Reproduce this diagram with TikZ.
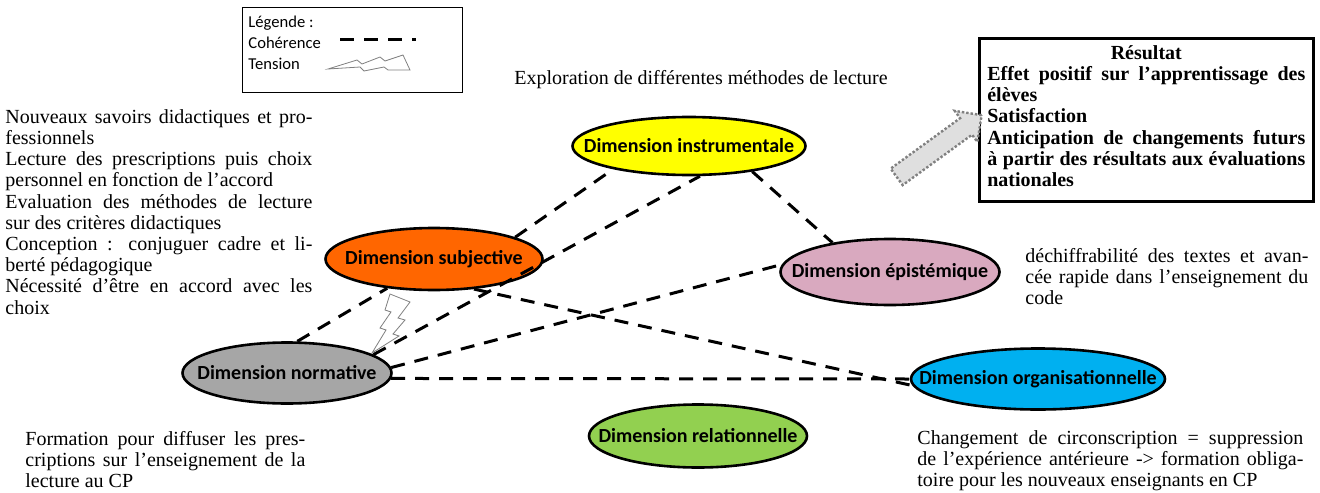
\documentclass[tikz,border=0pt]{standalone}
\usepackage{fontspec}
\setmainfont{Liberation Serif}
\newfontfamily\calibri{Carlito}
\usepackage{tikz}
\usetikzlibrary{positioning,shapes.geometric,shapes.arrows}
\definecolor{instrcol}{RGB}{255,255,0}
\definecolor{subjcol}{RGB}{255,102,0}
\definecolor{episcol}{RGB}{217,169,191}
\definecolor{normcol}{RGB}{166,166,166}
\definecolor{orgcol}{RGB}{0,176,240}
\definecolor{relcol}{RGB}{146,208,80}
\newcommand{\dimlab}[1]{\makebox[0pt]{#1}}
\tolerance=9999
\hyphenpenalty=10000

\begin{document}
\begin{tikzpicture}[x=0.5pt,y=-0.5pt,on grid]
      \tikzset{dim/.style={draw,ellipse,line width=1.3pt,inner sep=0pt,font=\calibri\bfseries\fontsize{10}{11}\selectfont}}
      \tikzset{txt/.style={inner sep=0pt,align=justify,font=\fontsize{10}{10.6}\selectfont}}
      \tikzset{coh/.style={line width=1.5pt,dash pattern=on 7pt off 5pt}}
      \tikzset{eclair/.style={draw=gray,fill=white,line width=0.4pt,line join=miter}}
      \useasboundingbox (0,0) rectangle (1320,492);

      % dimensions
      \node[dim,fill=normcol,minimum width=104.5pt,minimum height=30.5pt] (norm) at (287,373) {\dimlab{Dimension normative}};
      \node[dim,fill=subjcol,minimum width=108.5pt,minimum height=31pt] (subj) [above right = 57pt and 73.5pt of norm] {\dimlab{Dimension subjective}};
      \node[dim,fill=instrcol,minimum width=116.5pt,minimum height=29pt] (instr) [above right = 56.5pt and 127.5pt of subj] {\dimlab{Dimension instrumentale}};
      \node[dim,fill=episcol,minimum width=109.5pt,minimum height=33pt] (epis) [below right = 63pt and 100.5pt of instr] {\dimlab{Dimension épistémique}};
      \node[dim,fill=orgcol,minimum width=127pt,minimum height=30.5pt] (org) [below right = 53.5pt and 74pt of epis] {\dimlab{Dimension organisationnelle}};
      \node[dim,fill=relcol,minimum width=109pt,minimum height=31.5pt] (relat) [below right = 145pt and 4.5pt of instr] {\dimlab{Dimension relationnelle}};

      % coherences
      \path[coh]
      (norm.72) edge (subj.212)
      (norm.12) edge (instr.290)
      (norm.3) edge (epis.176)
      (norm.-3) edge (org.180)
      (subj.15) edge (instr.197)
      (subj.-37) edge (org.183)
      (instr.338) edge (epis.153)
      ;

      % tension subjective / normative
      \draw[eclair] (390,294) -- (410,302) -- (398,318) -- (405,320) -- (393,334) -- (399,336)
        -- (372,353) -- (386,330) -- (380,328) -- (391,312) -- (385,310) -- cycle;

      % legende
      \node[draw,line width=0.6pt,minimum width=110pt,minimum height=42.5pt,anchor=north west] (legende) at (242,7) {};
      \node[inner sep=0pt,anchor=north west,align=left,font=\calibri\fontsize{8.3}{10.5}\selectfont] (legtxt) at (248,16) {Légende :\\Cohérence\\Tension};
      \coordinate (cohA) at (340,40);
      \coordinate (cohB) at (416,40);
      \draw[coh] (cohA) -- (cohB);
      \draw[eclair] (328,69) -- (357,60) -- (362,64) -- (380,57) -- (385,61) -- (403,55)
        -- (410,70) -- (388,70) -- (384,67) -- (364,71) -- (360,67) -- cycle;

      % textes
      \node[txt,anchor=center,align=center] (explo) at (701,80) {Exploration de différentes méthodes de lecture};
      \node[txt,text width=153.5pt,anchor=north west] (savoirs) at (5,109) {Nouveaux savoirs didactiques et pro-\linebreak fessionnels\\
      Lecture des prescriptions puis choix\linebreak personnel en fonction de l'accord\\
      Evaluation des méthodes de lecture\linebreak sur des critères didactiques\\
      Conception : conjuguer cadre et li-\linebreak berté pédagogique\\
      Nécessité d'être en accord avec les\linebreak choix};
      \node[txt,text width=140pt,anchor=north west] (formation) at (25,431) {Formation pour diffuser les pres-\linebreak criptions sur l'enseignement de la\linebreak lecture au CP};
      \node[txt,text width=141.5pt,anchor=north west] (dechif) at (1025,248) {déchiffrabilité des textes et avan-\linebreak cée rapide dans l'enseignement du\linebreak code};
      \node[txt,text width=193pt,anchor=north west] (circo) at (917,430) {Changement de circonscription = suppression\linebreak de l'expérience antérieure -> formation obliga-\linebreak toire pour les nouveaux enseignants en CP};

      % resultat
      \node[draw,line width=1.3pt,minimum width=167pt,minimum height=81.5pt,anchor=north west] (resbox) at (978,37) {};
      \node[txt,text width=159pt,anchor=north,font=\bfseries\fontsize{10}{10.6}\selectfont] (resultat) at ([yshift=-4pt]resbox.north) {{\centering Résultat\par}
      Effet positif sur l'apprentissage des\linebreak élèves\\
      Satisfaction\\
      Anticipation de changements futurs\linebreak à partir des résultats aux évaluations\linebreak nationales};
      \node[single arrow,draw=gray,densely dotted,line width=1.2pt,fill=gray!25,minimum height=52.5pt,minimum width=18pt,inner sep=4.5pt,single arrow head extend=4.5pt,rotate=36] (fleche) at (935,149) {};
\end{tikzpicture}
\end{document}
